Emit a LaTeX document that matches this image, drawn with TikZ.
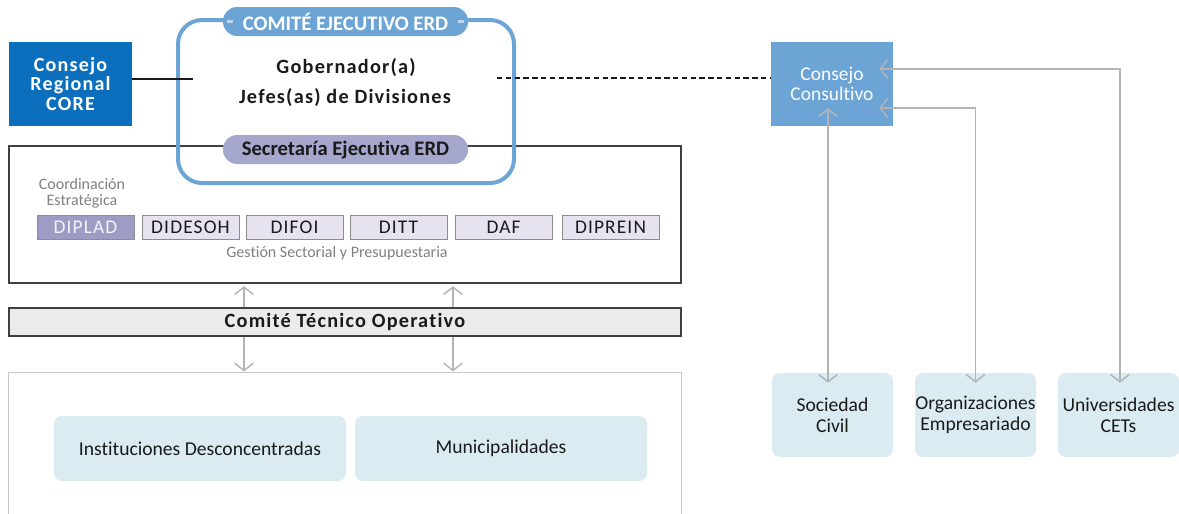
\documentclass[tikz,border=0pt]{standalone}
\usepackage{fontspec}
\setmainfont[Ligatures=NoCommon]{Carlito}
\newfontfamily\spacedbold[LetterSpace=6,Ligatures=NoCommon,BoldFont={Carlito Bold}]{Carlito Bold}
\newfontfamily\spacedreg[LetterSpace=6,Ligatures=NoCommon]{Carlito}
\usetikzlibrary{arrows.meta,calc}
\definecolor{coreblue}{RGB}{12,111,190}
\definecolor{pillblue}{RGB}{108,164,214}
\definecolor{ceblue}{RGB}{108,164,214}
\definecolor{secpurple}{RGB}{166,167,204}
\definecolor{dipladfill}{RGB}{156,156,196}
\definecolor{divfill}{RGB}{230,226,239}
\definecolor{divborder}{RGB}{140,140,140}
\definecolor{framegray}{RGB}{64,64,64}
\definecolor{ctogray}{RGB}{235,235,235}
\definecolor{reggray}{RGB}{200,200,200}
\definecolor{lightblue}{RGB}{218,235,242}
\definecolor{garrow}{RGB}{180,180,180}
\definecolor{textdark}{RGB}{26,26,26}
\definecolor{textgray}{RGB}{128,128,128}
\tikzset{
  garr/.style={draw=garrow, line width=1.1pt, arrows={-}, >={Straight Barb[length=5.5pt,width=14pt]}},
  divbox/.style={draw=divborder, line width=0.6pt, fill=divfill, minimum width=72.75pt, minimum height=18pt, inner sep=0pt, text=textdark, font=\spacedreg\fontsize{14.5}{14.5}\selectfont},
  lbox/.style={fill=lightblue, rounded corners=6pt, inner sep=0pt, align=center, text=textdark, font=\fontsize{14.7}{15.5}\selectfont},
  pill/.style={rounded corners=10.5pt, minimum width=183.75pt, minimum height=21.75pt, inner sep=0pt, font=\bfseries\fontsize{15.5}{15.5}\selectfont}
}
\begin{document}
\begin{tikzpicture}[x=0.75pt,y=-0.75pt]
\useasboundingbox (0,0) rectangle (1179,514);
% main frame of divisions
\node[draw=framegray, line width=0.8pt, minimum width=504pt, minimum height=102.75pt, inner sep=0pt] (div) at (345,214.5) {};
% bottom region (open at bottom)
\node[minimum width=504pt, minimum height=117.75pt, inner sep=0pt] (reg) at (345,451.5) {};
\draw[draw=reggray, line width=0.8pt] (reg.south west) -- (reg.north west) -- (reg.north east) -- (reg.south east);
% Consejo Regional
\node[fill=coreblue, minimum width=92.25pt, minimum height=63pt, inner sep=0pt, text=white, align=center, font=\spacedbold\fontsize{15}{14.6}\selectfont] (core) at (70.5,84) {Consejo\\Regional\\CORE};
% Comite ejecutivo frame
\node[draw=ceblue, line width=3pt, rounded corners=18pt, minimum width=252pt, minimum height=122.25pt, inner sep=0pt] (ce) at (346,101.5) {};
\coordinate (cel) at (193,79);
\draw[line width=0.9pt, draw=textdark] (core.east |- cel) -- (cel);
% title pill
\node[pill, fill=pillblue, text=white] (cet) at (345.5,21.5) {COMITÉ EJECUTIVO ERD};
\draw[white!55!pillblue, line width=2pt] ([xshift=3pt]cet.west) -- ([xshift=8pt]cet.west);
\draw[white!55!pillblue, line width=2pt] ([xshift=-3pt]cet.east) -- ([xshift=-8pt]cet.east);
\node[text=textdark, font=\spacedbold\fontsize{15.2}{15}\selectfont] (gob) at (346,68) {Gobernador(a)};
\node[text=textdark, font=\spacedbold\fontsize{15.2}{15}\selectfont] (jef) at (345,98) {Jefes(as) de Divisiones};
% secretaria pill
\node[pill, fill=secpurple, text=textdark] (sec) at (345.5,149.5) {Secretaría Ejecutiva ERD};
% Consejo Consultivo
\node[fill=pillblue, minimum width=91.5pt, minimum height=63pt, inner sep=0pt, text=white, align=center, font=\fontsize{14.6}{14.6}\selectfont] (cc) at (832,84) {Consejo\\Consultivo};
\coordinate (dl) at (497,78);
\draw[draw=textdark, line width=0.9pt, dash pattern=on 4pt off 2.6pt] (dl) -- (dl -| cc.west);
% divisions
\node[text=textgray, align=center, font=\fontsize{12}{11.8}\selectfont] (coord) at (82,193.5) {Coordinación\\Estratégica};
\node[divbox, fill=dipladfill, text=white!88!dipladfill] (d1) at (85.5,227) {DIPLAD};
\node[divbox] (d2) at (190.5,227) {DIDESOH};
\node[divbox] (d3) at (294.5,227) {DIFOI};
\node[divbox] (d4) at (398.5,227) {DITT};
\node[divbox] (d5) at (503.5,227) {DAF};
\node[divbox] (d6) at (610.5,227) {DIPREIN};
\node[text=textgray, font=\fontsize{12}{12}\selectfont] (ges) at (337,253) {Gestión Sectorial y Presupuestaria};
% comite tecnico operativo
\node[draw=framegray, fill=ctogray, line width=0.8pt, minimum width=504pt, minimum height=21pt, inner sep=0pt, text=textdark, font=\spacedbold\fontsize{15.2}{15}\selectfont] (cto) at (345,322) {Comité Técnico Operativo};
\coordinate (xa) at (244,0);
\coordinate (xb) at (453,0);
\draw[garr, ->, shorten >=2pt] (cto.north -| xa) -- (div.south -| xa);
\draw[garr, ->, shorten >=2pt] (cto.north -| xb) -- (div.south -| xb);
\draw[garr, ->, shorten >=1pt] (cto.south -| xa) -- (reg.north -| xa);
\draw[garr, ->, shorten >=1pt] (cto.south -| xb) -- (reg.north -| xb);
% lower boxes
\node[lbox, minimum width=219pt, minimum height=48.75pt] (inst) at (200,448.5) {Instituciones Desconcentradas};
\node[lbox, minimum width=219pt, minimum height=48.75pt] (mun) at (501,448.5) {Municipalidades};
% right boxes
\node[lbox, minimum width=90.75pt, minimum height=63pt] (sc) at (832.5,415) {Sociedad\\Civil};
\node[lbox, minimum width=90.75pt, minimum height=63pt] (oe) at (975.5,415) {Organizaciones\\Empresariado};
\node[lbox, minimum width=90.75pt, minimum height=63pt] (uc) at (1118.5,415) {Universidades\\CETs};
% right arrows
\coordinate (xs) at (828,0);
\coordinate (ys1) at (0,69);
\coordinate (ys2) at (0,108);
\draw[garr, <->, shorten <=-13.5pt, shorten >=-7.5pt] (cc.south -| xs) -- (sc.north -| xs);
\draw[garr, <->, shorten <=-10.5pt, shorten >=-7.5pt] (cc.east |- ys2) -| (oe.north);
\draw[garr, <->, shorten <=-10.5pt, shorten >=-7.5pt] (cc.east |- ys1) -| ([xshift=1pt]uc.north);
\end{tikzpicture}
\end{document}
